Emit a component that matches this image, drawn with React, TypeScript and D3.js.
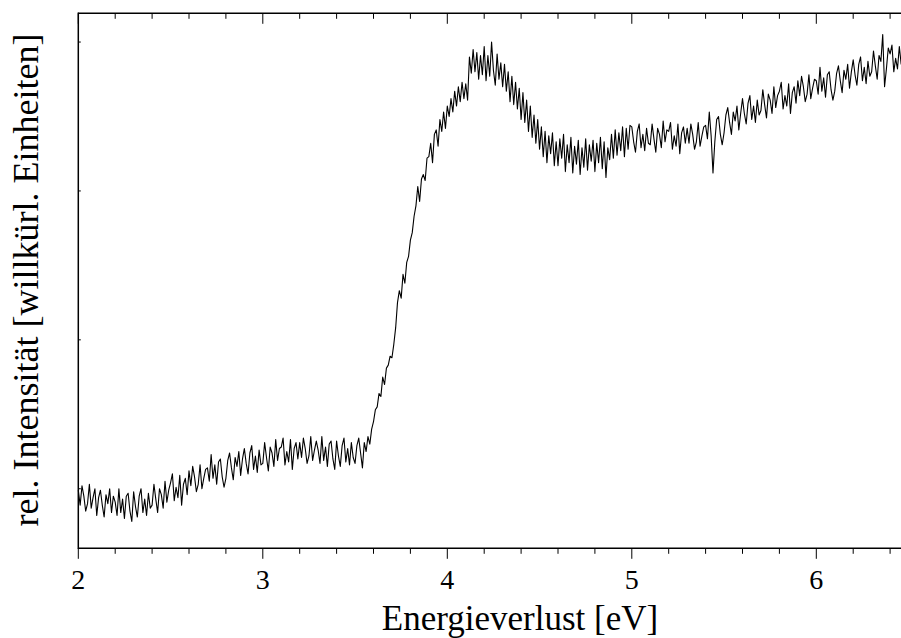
import React from "react";
import * as d3 from "d3";

// Energy grid (eV)
const energyStart = 2.0;
const energyStep = 0.01;

// Intensity (arbitrary units), one per 0.01 eV from 2.00 eV
const intensity: number[] = [
  // 2.0
  0.99, 0.89, 1.02, 0.95, 0.85, 0.90, 1.03, 0.87, 0.94, 1.00,
  // 2.1
  0.82, 0.94, 0.99, 0.89, 0.81, 0.96, 0.90, 1.00, 0.84, 0.95,
  // 2.2
  0.91, 0.82, 1.00, 0.84, 0.93, 0.80, 0.95, 0.97, 0.85, 0.78,
  // 2.3
  0.98, 0.88, 0.81, 0.95, 1.00, 0.84, 0.93, 0.82, 0.97, 0.87,
  // 2.4
  0.89, 1.03, 0.93, 0.84, 1.00, 0.96, 0.87, 1.05, 0.91, 0.99,
  // 2.5
  1.04, 1.10, 0.92, 1.01, 0.94, 1.09, 0.89, 1.03, 1.07, 0.96,
  // 2.6
  1.12, 1.02, 1.15, 1.08, 0.98, 1.03, 1.16, 1.00, 1.07, 1.13,
  // 2.7
  1.14, 1.05, 1.23, 1.07, 1.16, 1.03, 1.18, 1.20, 1.08, 1.01,
  // 2.8
  1.07, 1.19, 1.24, 1.14, 1.06, 1.21, 1.15, 1.25, 1.09, 1.20,
  // 2.9
  1.27, 1.17, 1.10, 1.24, 1.29, 1.13, 1.22, 1.11, 1.26, 1.16,
  // 3.0
  1.17, 1.31, 1.21, 1.12, 1.28, 1.24, 1.15, 1.33, 1.19, 1.27,
  // 3.1
  1.28, 1.34, 1.16, 1.25, 1.18, 1.33, 1.13, 1.27, 1.31, 1.20,
  // 3.2
  1.31, 1.21, 1.34, 1.27, 1.17, 1.22, 1.35, 1.19, 1.26, 1.32,
  // 3.3
  1.26, 1.17, 1.35, 1.19, 1.28, 1.15, 1.30, 1.32, 1.20, 1.13,
  // 3.4
  1.32, 1.22, 1.15, 1.29, 1.34, 1.18, 1.27, 1.16, 1.31, 1.21,
  // 3.5
  1.17, 1.29, 1.34, 1.24, 1.14, 1.31, 1.25, 1.35, 1.30, 1.40,
  // 3.6
  1.45, 1.53, 1.55, 1.64, 1.62, 1.75, 1.70, 1.81, 1.83, 1.89,
  // 3.7
  1.88, 1.97, 2.08, 2.25, 2.33, 2.28, 2.44, 2.38, 2.52, 2.56,
  // 3.8
  2.67, 2.72, 2.83, 2.90, 3.03, 2.93, 3.08, 3.11, 3.07, 3.22,
  // 3.9
  3.23, 3.32, 3.19, 3.38, 3.41, 3.30, 3.48, 3.40, 3.53, 3.42,
  // 4.0
  3.57, 3.50, 3.62, 3.53, 3.67, 3.57, 3.70, 3.60, 3.73, 3.62,
  // 4.1
  3.72, 3.61, 3.90, 3.79, 3.95, 3.80, 3.93, 3.75, 3.91, 3.78,
  // 4.2
  3.97, 3.74, 3.91, 3.77, 4.00, 3.81, 3.71, 3.92, 3.75, 3.86,
  // 4.3
  3.70, 3.85, 3.67, 3.80, 3.60, 3.77, 3.58, 3.73, 3.55, 3.69,
  // 4.4
  3.48, 3.66, 3.46, 3.61, 3.40, 3.57, 3.36, 3.51, 3.32, 3.48,
  // 4.5
  3.28, 3.43, 3.23, 3.40, 3.19, 3.37, 3.25, 3.39, 3.17, 3.33,
  // 4.6
  3.17, 3.35, 3.22, 3.38, 3.13, 3.31, 3.19, 3.36, 3.12, 3.30,
  // 4.7
  3.18, 3.34, 3.11, 3.29, 3.16, 3.35, 3.14, 3.31, 3.20, 3.34,
  // 4.8
  3.13, 3.32, 3.19, 3.36, 3.15, 3.33, 3.09, 3.29, 3.21, 3.38,
  // 4.9
  3.22, 3.41, 3.24, 3.39, 3.27, 3.43, 3.23, 3.42, 3.28, 3.44,
  // 5.0
  3.43, 3.33, 3.26, 3.40, 3.45, 3.29, 3.38, 3.27, 3.42, 3.32,
  // 5.1
  3.31, 3.45, 3.35, 3.26, 3.42, 3.38, 3.29, 3.47, 3.33, 3.41,
  // 5.2
  3.40, 3.46, 3.28, 3.37, 3.30, 3.45, 3.25, 3.39, 3.43, 3.32,
  // 5.3
  3.42, 3.32, 3.45, 3.38, 3.28, 3.33, 3.46, 3.30, 3.37, 3.43,
  // 5.4
  3.44, 3.35, 3.53, 3.37, 3.12, 3.33, 3.48, 3.50, 3.38, 3.31,
  // 5.5
  3.39, 3.51, 3.56, 3.46, 3.38, 3.53, 3.47, 3.57, 3.41, 3.52,
  // 5.6
  3.62, 3.52, 3.45, 3.59, 3.64, 3.48, 3.57, 3.46, 3.61, 3.51,
  // 5.7
  3.54, 3.68, 3.58, 3.49, 3.65, 3.61, 3.52, 3.70, 3.56, 3.64,
  // 5.8
  3.67, 3.73, 3.55, 3.64, 3.57, 3.72, 3.52, 3.66, 3.70, 3.59,
  // 5.9
  3.74, 3.64, 3.77, 3.70, 3.60, 3.65, 3.78, 3.62, 3.69, 3.75,
  // 6.0
  3.74, 3.65, 3.83, 3.67, 3.76, 3.63, 3.78, 3.80, 3.68, 3.61,
  // 6.1
  3.67, 3.79, 3.84, 3.74, 3.66, 3.81, 3.75, 3.85, 3.69, 3.80,
  // 6.2
  3.88, 3.78, 3.71, 3.85, 3.90, 3.74, 3.83, 3.72, 3.87, 3.77,
  // 6.3
  3.80, 3.94, 3.84, 3.75, 3.91, 3.87, 4.05, 3.70, 3.82, 3.96,
  // 6.4
  3.92, 3.98, 3.80, 3.89, 3.82, 3.97, 3.85,
];

const xMajorTicks = [2, 3, 4, 5, 6];
const xTickLabels = ["2", "3", "4", "5", "6"];
const yTicks = [1, 2, 3, 4];
const xTitle = "Energieverlust [eV]";
const yTitle = "rel. Intensität [willkürl. Einheiten]";

const W = 901;
const H = 638;
const left = 78.3;
const top = 13.3;
const bottom = 548.3;
const pxPerEv = 184.5;

export default function App() {
  const x = d3.scaleLinear().domain([2, 6.5]).range([left, left + 4.5 * pxPerEv]);
  const y = d3.scaleLinear().domain([0.6, 0.6 + (bottom - top) / 148.9]).range([bottom, top]);

  const pts: [number, number][] = intensity.map((v, i) => [energyStart + i * energyStep, v]);
  const line = d3
    .line<[number, number]>()
    .x((d) => x(d[0]))
    .y((d) => y(d[1]));

  const minor = d3.range(2, 6.5 + 1e-9, 0.2).filter((t) => Math.abs(t - Math.round(t)) > 1e-6);
  const font = "'Liberation Serif', 'Times New Roman', serif";

  return (
    <div style={{ position: "absolute", left: 0, top: 0, width: W, height: H, overflow: "hidden", background: "#fff" }}>
      <svg width={W} height={H} style={{ display: "block" }}>
        <rect width={W} height={H} fill="#fff" />
        {/* curve */}
        <path d={line(pts) || ""} fill="none" stroke="#000" strokeWidth={1.1} strokeLinejoin="round" />
        {/* frame */}
        <line x1={left} x2={W + 10} y1={top} y2={top} stroke="#000" strokeWidth={1.5} />
        <line x1={left} x2={W + 10} y1={bottom} y2={bottom} stroke="#000" strokeWidth={1.5} />
        <line x1={left} x2={left} y1={top - 0.75} y2={bottom + 0.75} stroke="#000" strokeWidth={1.5} />
        {/* bottom ticks (outward) */}
        {xMajorTicks.map((t) => (
          <line key={"bM" + t} x1={x(t)} x2={x(t)} y1={bottom} y2={bottom + 10.5} stroke="#000" strokeWidth={1} />
        ))}
        {minor.map((t) => (
          <line key={"bm" + t} x1={x(t)} x2={x(t)} y1={bottom} y2={bottom + 5.5} stroke="#000" strokeWidth={1} />
        ))}
        {/* top ticks (inward) */}
        {xMajorTicks.map((t) => (
          <line key={"tM" + t} x1={x(t)} x2={x(t)} y1={top} y2={top + 10.5} stroke="#000" strokeWidth={1} />
        ))}
        {minor.map((t) => (
          <line key={"tm" + t} x1={x(t)} x2={x(t)} y1={top} y2={top + 5.5} stroke="#000" strokeWidth={1} />
        ))}
        {/* left ticks (small, inward) */}
        {yTicks.map((t) => (
          <line key={"l" + t} x1={left} x2={left + 2.5} y1={y(t)} y2={y(t)} stroke="#000" strokeWidth={1} />
        ))}
        {/* tick labels */}
        {xMajorTicks.map((t, i) => (
          <text key={"lab" + t} x={x(t)} y={589} textAnchor="middle" fontFamily={font} fontSize={28} fill="#000">
            {xTickLabels[i]}
          </text>
        ))}
        {/* axis titles */}
        <text x={520} y={630} textAnchor="middle" fontFamily={font} fontSize={35} fill="#000">
          {xTitle}
        </text>
        <text
          transform={`translate(38, 280) rotate(-90)`}
          textAnchor="middle"
          fontFamily={font}
          fontSize={36}
          fill="#000"
        >
          {yTitle}
        </text>
      </svg>
    </div>
  );
}
